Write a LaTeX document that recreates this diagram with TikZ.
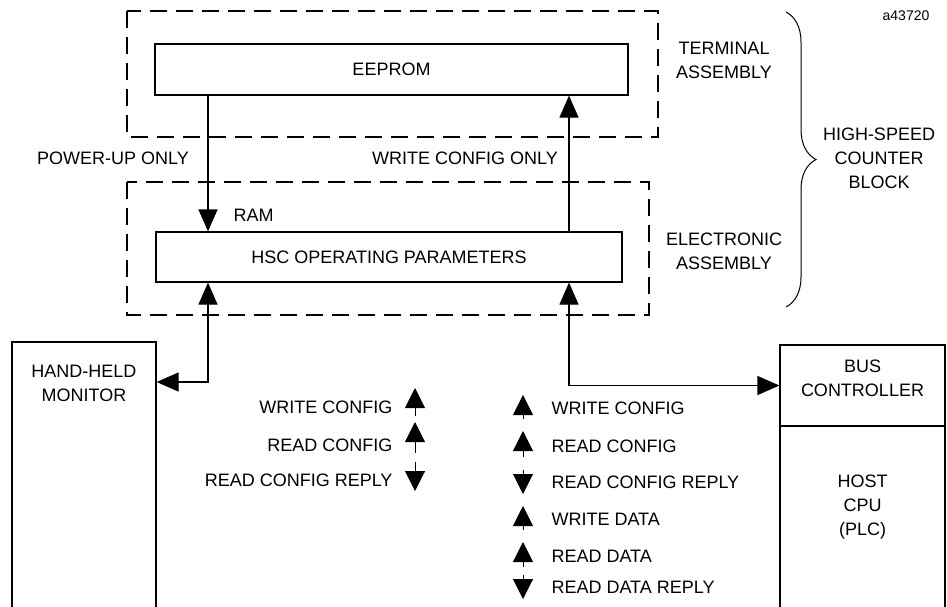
\documentclass[tikz,border=0pt]{standalone}
\usepackage{fontspec}
\setmainfont{Liberation Sans}
\usetikzlibrary{arrows.meta,positioning,decorations.pathreplacing}
\tikzset{
  blk/.style={draw, line width=1.2pt, inner sep=0pt},
  grp/.style={draw, line width=1.2pt, dash pattern=on 17pt off 9pt},
  lbl/.style={align=center, font=\fontsize{18}{24}\selectfont},
  sig/.style={line width=1pt, -{Triangle[length=20pt,width=20pt]}},
}

\begin{document}
\begin{tikzpicture}[x=1pt, y=-1pt, >={Triangle[length=22pt,width=19pt]}]
\useasboundingbox[fill=white] (0,0) rectangle (947,606);
% Terminal assembly
\draw[grp] (127,11) rectangle (658,137);
\node[blk, minimum width=473pt, minimum height=51pt, font=\fontsize{18}{24}\selectfont] (eeprom) at (391.5,69.5) {EEPROM};
\node[lbl] (term) at (724,60) {TERMINAL\\ASSEMBLY};
% Electronic assembly
\draw[grp] (127,182) rectangle (649,315);
\node[blk, minimum width=466pt, minimum height=50pt, font=\fontsize{18}{24}\selectfont] (hsc) at (389,257) {HSC OPERATING PARAMETERS};
\node[lbl] (elec) at (724,251) {ELECTRONIC\\ASSEMBLY};
\node[lbl, anchor=west] (ram) at (230,215) {RAM};
% Block brace
\draw[line width=1pt, decorate, decoration={brace, amplitude=30pt}] (786,12) -- (786,307);
\node[lbl] (block) at (879,158) {HIGH-SPEED\\COUNTER\\BLOCK};
\node[font=\fontsize{14}{16}\selectfont] (fig) at (906,16) {a43720};
% Modules
\node[blk, minimum width=144pt, minimum height=266pt] (monitor) at (84,475) {};
\node[lbl] (mon) at (84,383) {HAND-HELD\\MONITOR};
\node[blk, minimum width=165pt, minimum height=81pt] (bus) at (862.5,385.5) {};
\node[lbl] (buslbl) at (862.5,378) {BUS\\CONTROLLER};
\node[blk, minimum width=165pt, minimum height=182pt] (host) at (862.5,517) {};
\node[lbl] (hostlbl) at (862.5,507) {HOST\\CPU\\(PLC)};
% Config paths
\coordinate (lx) at (208,0);
\coordinate (rx) at (569,0);
\coordinate (mon-in) at (0,382);
\draw[->, line width=1.2pt] (eeprom.south -| lx) -- (hsc.north -| lx);
\draw[->, line width=1.2pt] (hsc.north -| rx) -- (eeprom.south -| rx);
\node[lbl] (pwr) at (113,158) {POWER-UP ONLY};
\node[lbl] (wcfg) at (465,158) {WRITE CONFIG ONLY};
\draw[<->, line width=1.2pt] (hsc.south -| lx) |- (monitor.east |- mon-in);
\draw[<->, line width=1.2pt] (hsc.south -| rx) |- (bus.west);
% Monitor messages
\foreach \txt/\y/\ya/\yb in {WRITE CONFIG/407/416/388, READ CONFIG/445/453/422, READ CONFIG REPLY/480/462/491}{
  \node[lbl, anchor=east] at (396,\y) {\txt};
  \draw[sig] (415,\ya) -- (415,\yb);
}
% Bus messages
\foreach \txt/\y/\ya/\yb in {WRITE CONFIG/408/419/395, READ CONFIG/446/457/431, READ CONFIG REPLY/482/470/494,
    WRITE DATA/519/530/506, READ DATA/556/567/542, READ DATA REPLY/587/575/599}{
  \node[lbl, anchor=west] at (548,\y) {\txt};
  \draw[sig] (523,\ya) -- (523,\yb);
}
\end{tikzpicture}
\end{document}
